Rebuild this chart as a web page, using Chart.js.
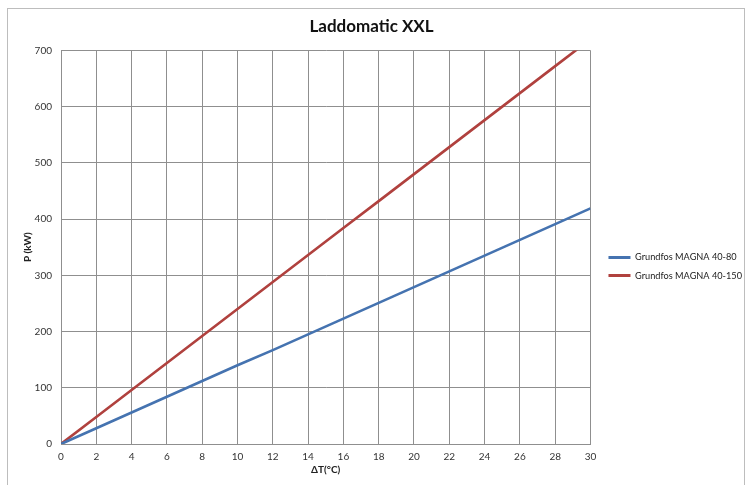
<!DOCTYPE html>
<html>
<head>
<meta charset="utf-8">
<script src="https://cdn.jsdelivr.net/npm/chart.js@4"></script>
<style>
  body { margin: 0; background: #fff; }
  #wrap { position: relative; width: 751px; height: 485px; overflow: hidden; }
  #frame { position: absolute; left: 7px; top: 8px; width: 738px; height: 500px; border: 1px solid #bdbdbd; box-sizing: border-box; }
  #chart { position: absolute; left: 0; top: 0; }
</style>
</head>
<body>
<div id="wrap">
  <div id="frame"></div>
  <canvas id="chart" width="751" height="485"></canvas>
</div>
<script>
// ΔT values (°C)
const deltaT = [0, 2, 4, 6, 8, 10, 12, 14, 16, 18, 20, 22, 24, 26, 28, 30];
// P (kW) per pump
const magna4080 = [0, 28, 56, 84, 112, 140, 167, 195, 223, 251, 279, 307, 335, 363, 391, 419];
const magna40150 = [0, 48, 96, 144, 192, 240, 288, 336, 384, 432, 480, 528, 576, 624, 672, 720];

const seriesNames = ['Grundfos MAGNA 40-80', 'Grundfos MAGNA 40-150'];
const seriesColors = ['#4573b0', '#b0413e'];

const font = 'Lato';
const gridColor = '#8f8f8f';

function toPoints(values){
    return deltaT.map((t, i) => ({ x: t, y: values[i] }));
}

// nudge the legend a bit right and down, like the original
const legendShift = {
    id: 'legendShift',
    afterLayout(chart){
        const lg = chart.legend;
        lg.left += 9; lg.right += 9;
        lg.top += 24; lg.bottom += 24;
    }
};

const canvas = document.querySelector('#chart');

new Chart(canvas.getContext('2d'), {
    type: 'line',
    data: {
        datasets: [magna4080, magna40150].map((values, i) => ({
            label: seriesNames[i],
            data: toPoints(values),
            borderColor: seriesColors[i],
            backgroundColor: seriesColors[i],
            borderWidth: 2.6,
            pointRadius: 0,
            tension: 0,
            clip: 0
        }))
    },
    options: {
        responsive: false,
        animation: false,
        layout: { padding: { left: 0, right: 8, top: 0, bottom: 0 } },
        plugins: {
            title: {
                display: true,
                text: 'Laddomatic XXL',
                color: '#111',
                font: { family: font, size: 17, weight: 'bold' },
                padding: { top: 16, bottom: 14 }
            },
            legend: {
                position: 'right',
                labels: {
                    color: '#222',
                    font: { family: font, size: 9.2 },
                    boxWidth: 22,
                    boxHeight: 3,
                    padding: 9,
                    generateLabels: chart => chart.data.datasets.map((ds, i) => ({
                        text: ds.label,
                        fillStyle: ds.borderColor,
                        strokeStyle: ds.borderColor,
                        lineWidth: 0,
                        fontColor: '#222',
                        datasetIndex: i
                    }))
                }
            },
            tooltip: { enabled: false }
        },
        scales: {
            x: {
                type: 'linear',
                min: 0,
                max: 30,
                ticks: { stepSize: 2, color: '#333', font: { family: font, size: 10 }, padding: 7, maxRotation: 0 },
                grid: { color: gridColor, drawTicks: false },
                border: { color: gridColor },
                title: { display: true, text: 'ΔT(°C)', color: '#222', font: { family: font, size: 10, weight: 'bold' }, padding: { top: 0, bottom: 9 } },
                afterFit: scale => { scale.height = 41; }
            },
            y: {
                min: 0,
                max: 700,
                ticks: { stepSize: 100, color: '#333', font: { family: font, size: 10 }, padding: 9 },
                grid: { color: gridColor, drawTicks: false },
                border: { color: gridColor },
                title: { display: true, text: 'P (kW)', color: '#222', font: { family: font, size: 10, weight: 'bold' }, padding: { top: 22, bottom: 0 } },
                afterFit: scale => { scale.width = 61; }
            }
        }
    },
    plugins: [legendShift]
});
</script>
</body>
</html>
